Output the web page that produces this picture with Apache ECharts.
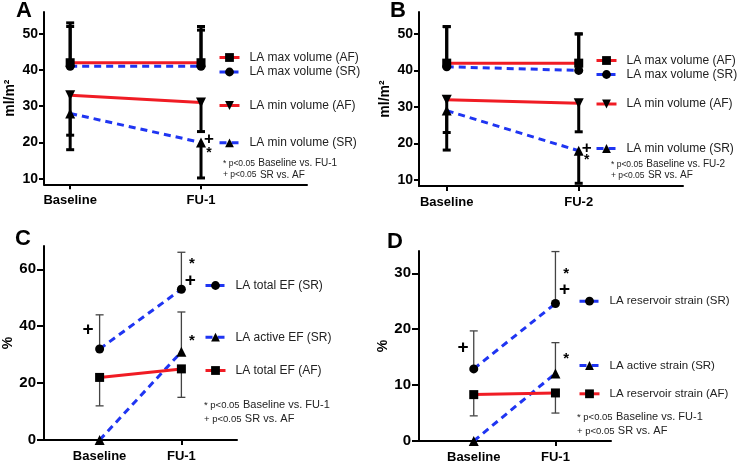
<!DOCTYPE html>
<html>
<head>
<meta charset="utf-8">
<script src="https://cdn.jsdelivr.net/npm/echarts@6/dist/echarts.min.js"></script>
<style>
  html, body { margin: 0; padding: 0; background: #fff; }
  #main { width: 749px; height: 469px; }
</style>
</head>
<body>
<div id="main"></div>
<script>
// categories on the x axes
const catsA = ['Baseline', 'FU-1'];
const catsB = ['Baseline', 'FU-2'];
const catsC = ['Baseline', 'FU-1'];
const catsD = ['Baseline', 'FU-1'];

// tick labels on the y axes
const yTicksA = [10, 20, 30, 40, 50];
const yTicksB = [10, 20, 30, 40, 50];
const yTicksC = [0, 20, 40, 60];
const yTicksD = [0, 10, 20, 30];

// panel A - LA volume (ml/m2), mean + one sided error bar end
const maxAF_A = [42, 42], maxAF_A_bar = [53, 52];
const maxSR_A = [41, 41], maxSR_A_bar = [52, 51];
const minAF_A = [33, 31], minAF_A_bar = [22, 23];
const minSR_A = [28, 20], minSR_A_bar = [18, 10.2];

// panel B
const maxAF_B = [42, 42], maxAF_B_bar = [52, 50];
const maxSR_B = [41, 40], maxSR_B_bar = [52, 50];
const minAF_B = [32, 31], minAF_B_bar = [23, 23.2];
const minSR_B = [29, 18], minSR_B_bar = [18.2, 9.1];

// panel C - EF (%)
const totalEF_SR = [32, 53], totalEF_SR_bar = [44, 66];
const activeEF_SR = [0, 31], activeEF_SR_bar = [null, 45];
const totalEF_AF = [22, 25], totalEF_AF_bar = [12, 15];

// panel D - strain (%)
const resStrain_SR = [12.9, 24.6], resStrain_SR_bar = [19.7, 33.9];
const actStrain_SR = [0, 12.1], actStrain_SR_bar = [null, 17.6];
const resStrain_AF = [8.3, 8.6], resStrain_AF_bar = [4.5, 5.0];

// significance marks [x, y, glyph]
const marksA = [[1.06, 20.8, '+'], [1.06, 17.9, '*']];
const marksB = [[1.06, 18.8, '+'], [1.06, 16.2, '*']];
const marksC = [[1.13, 62.9, '*'], [1.11, 56.1, '+'], [-0.14, 38.9, '+'], [1.13, 36, '*']];
const marksD = [[1.13, 30.5, '*'], [1.11, 27.1, '+'], [-0.13, 16.6, '+'], [1.13, 15.2, '*']];

const FONT = '"Liberation Sans", Arial, sans-serif';
const RED = '#f01c24';
const BLUE = '#1f35f2';

function lineSeries(name, values, idx, color, dashed, symbol, rotate) {
    return {
        type: 'line',
        name: name,
        xAxisIndex: idx,
        yAxisIndex: idx,
        data: values.map((v, i) => [i, v]),
        symbol: symbol,
        symbolRotate: rotate || 0,
        symbolSize: symbol === 'triangle' ? 10 : 9,
        showSymbol: true,
        clip: false,
        z: 3,
        itemStyle: { color: '#000' },
        lineStyle: { color: color, width: 3, type: dashed ? [7, 5] : 'solid' },
        emphasis: { disabled: true }
    };
}

function errSeries(values, bars, idx, width, color) {
    let data = [];
    values.forEach((v, i) => {
        if (bars[i] != null) data.push([i, v, bars[i]]);
    });
    return {
        type: 'custom',
        xAxisIndex: idx,
        yAxisIndex: idx,
        data: data,
        encode: { x: 0, y: [1, 2] },
        clip: false,
        z: 2,
        silent: true,
        renderItem: function (params, api) {
            let x = api.value(0);
            let p0 = api.coord([x, api.value(1)]);
            let p1 = api.coord([x, api.value(2)]);
            let st = { stroke: color, lineWidth: width };
            return {
                type: 'group',
                children: [
                    { type: 'line', shape: { x1: p0[0], y1: p0[1], x2: p1[0], y2: p1[1] }, style: st },
                    { type: 'line', shape: { x1: p1[0] - 4, y1: p1[1], x2: p1[0] + 4, y2: p1[1] }, style: st }
                ]
            };
        }
    };
}

// plus / star glyphs next to the points
function markSeries(marks, idx, plusSize, starSize) {
    return {
        type: 'scatter',
        xAxisIndex: idx,
        yAxisIndex: idx,
        silent: true,
        symbolSize: 1,
        itemStyle: { opacity: 0 },
        z: 5,
        data: marks.map(m => ({
            value: [m[0], m[1]],
            name: m[2],
            label: { fontSize: m[2] === '+' ? plusSize : starSize, offset: m[2] === '+' ? [0, 0] : [0, 3] }
        })),
        label: {
            show: true,
            position: 'inside',
            formatter: '{b}',
            color: '#000',
            opacity: 1,
            fontFamily: FONT,
            fontWeight: 'bold'
        }
    };
}

function xAxis(idx, cats, min, max) {
    return {
        type: 'value', gridIndex: idx, min: min, max: max,
        axisLine: { onZero: false, lineStyle: { color: '#000', width: 2 } },
        axisTick: { customValues: [0, 1], length: 5, lineStyle: { color: '#000', width: 2 } },
        axisLabel: {
            customValues: [0, 1], formatter: v => cats[Math.round(v)],
            color: '#000', fontFamily: FONT, fontWeight: 'bold', fontSize: 13, margin: 10
        },
        splitLine: { show: false }
    };
}

function yAxis(idx, ticks, min, max, name, gap, tickLen, fs) {
    return {
        type: 'value', gridIndex: idx, min: min, max: max,
        name: name, nameLocation: 'middle', nameGap: gap,
        nameTextStyle: { color: '#000', fontFamily: FONT, fontWeight: 'bold', fontSize: 14 },
        axisLine: { onZero: false, lineStyle: { color: '#000', width: 2 } },
        axisTick: { customValues: ticks, length: tickLen, lineStyle: { color: '#000', width: 2 } },
        axisLabel: {
            customValues: ticks, color: '#000', fontFamily: FONT,
            fontWeight: 'bold', fontSize: fs, margin: tickLen + 1
        },
        splitLine: { show: false }
    };
}

function leg(name, left, cy, fs) {
    return {
        data: [name], left: left, top: cy - 5.5, padding: 0,
        itemWidth: 20, itemHeight: 11, selectedMode: false,
        lineStyle: { width: 3 },
        textStyle: { fontFamily: FONT, fontSize: fs, color: '#222', padding: [0, 0, 0, 5] }
    };
}

function noteText(x, y, small, main, fs) {
    return {
        type: 'text', x: x, y: y, silent: true,
        style: {
            text: '{s|' + small + '} {m|' + main + '}',
            verticalAlign: 'middle',
            rich: {
                s: { fontFamily: FONT, fontSize: fs - 1.5, fill: '#222' },
                m: { fontFamily: FONT, fontSize: fs, fill: '#222' }
            }
        }
    };
}

const myChart = echarts.init(document.getElementById('main'));

const option = {
    backgroundColor: '#fff',
    animation: false,
    title: [
        { text: 'A', left: 16, top: 0 },
        { text: 'B', left: 390, top: 0 },
        { text: 'C', left: 15, top: 228 },
        { text: 'D', left: 387, top: 231 }
    ].map(t => Object.assign(t, {
        padding: 0,
        textStyle: { fontFamily: FONT, fontWeight: 'bold', fontSize: 22, color: '#000' }
    })),
    grid: [
        { left: 44, top: 12, width: 263, height: 172.3 },
        { left: 419, top: 12, width: 264, height: 174 },
        { left: 44, top: 246, width: 193, height: 194 },
        { left: 419, top: 251, width: 192, height: 190 }
    ],
    xAxis: [
        xAxis(0, catsA, -0.2, 1.81),
        xAxis(1, catsB, -0.21, 1.79),
        xAxis(2, catsC, -0.68, 1.68),
        xAxis(3, catsD, -0.67, 1.68)
    ],
    yAxis: [
        yAxis(0, yTicksA, 8.45, 56, 'ml/m²', 27, 5, 14),
        yAxis(1, yTicksB, 8.36, 56, 'ml/m²', 27, 5, 14),
        yAxis(2, yTicksC, 0, 68.2, '%', 24, 7, 15),
        yAxis(3, yTicksD, 0, 34, '%', 24, 7, 15)
    ],
    legend: [
        leg('LA max volume (AF)', 218, 57, 12),
        leg('LA max volume (SR)', 218, 71.5, 12),
        leg('LA min volume (AF)', 218, 105, 12),
        leg('LA min volume (SR)', 218, 142.3, 12),
        leg('LA max volume (AF)', 595, 60, 12),
        leg('LA max volume (SR)', 595, 74, 12),
        leg('LA min volume (AF)', 595, 103.5, 12),
        leg('LA min volume (SR)', 595, 148, 12),
        leg('LA total EF (SR)', 204, 285, 12),
        leg('LA active EF (SR)', 204, 336.7, 12),
        leg('LA total EF (AF)', 204, 370, 12),
        leg('LA reservoir strain (SR)', 578, 300.7, 11.5),
        leg('LA active strain (SR)', 578, 365, 11.5),
        leg('LA reservoir strain (AF)', 578, 393.3, 11.5)
    ],
    graphic: [
        noteText(223, 163.3, '* p<0.05', 'Baseline vs. FU-1', 10),
        noteText(223, 175, '+ p<0.05', 'SR vs. AF', 10),
        noteText(611, 164.3, '* p<0.05', 'Baseline vs. FU-2', 10),
        noteText(611, 175.7, '+ p<0.05', 'SR vs. AF', 10),
        noteText(204, 405, '* p<0.05', 'Baseline vs. FU-1', 11),
        noteText(204, 419, '+ p<0.05', 'SR vs. AF', 11),
        noteText(577, 417.3, '* p<0.05', 'Baseline vs. FU-1', 11),
        noteText(577, 431, '+ p<0.05', 'SR vs. AF', 11)
    ],
    series: [
        // A
        errSeries(maxAF_A, maxAF_A_bar, 0, 3, '#000'),
        errSeries(maxSR_A, maxSR_A_bar, 0, 3, '#000'),
        errSeries(minAF_A, minAF_A_bar, 0, 3, '#000'),
        errSeries(minSR_A, minSR_A_bar, 0, 3, '#000'),
        lineSeries('LA max volume (AF)', maxAF_A, 0, RED, false, 'rect'),
        lineSeries('LA max volume (SR)', maxSR_A, 0, BLUE, true, 'circle'),
        lineSeries('LA min volume (AF)', minAF_A, 0, RED, false, 'triangle', 180),
        lineSeries('LA min volume (SR)', minSR_A, 0, BLUE, true, 'triangle'),
        markSeries(marksA, 0, 17, 14),
        // B
        errSeries(maxAF_B, maxAF_B_bar, 1, 3, '#000'),
        errSeries(maxSR_B, maxSR_B_bar, 1, 3, '#000'),
        errSeries(minAF_B, minAF_B_bar, 1, 3, '#000'),
        errSeries(minSR_B, minSR_B_bar, 1, 3, '#000'),
        lineSeries('LA max volume (AF)', maxAF_B, 1, RED, false, 'rect'),
        lineSeries('LA max volume (SR)', maxSR_B, 1, BLUE, true, 'circle'),
        lineSeries('LA min volume (AF)', minAF_B, 1, RED, false, 'triangle', 180),
        lineSeries('LA min volume (SR)', minSR_B, 1, BLUE, true, 'triangle'),
        markSeries(marksB, 1, 17, 14),
        // C
        errSeries(totalEF_SR, totalEF_SR_bar, 2, 1.3, '#444'),
        errSeries(activeEF_SR, activeEF_SR_bar, 2, 1.3, '#444'),
        errSeries(totalEF_AF, totalEF_AF_bar, 2, 1.3, '#444'),
        lineSeries('LA total EF (SR)', totalEF_SR, 2, BLUE, true, 'circle'),
        lineSeries('LA active EF (SR)', activeEF_SR, 2, BLUE, true, 'triangle'),
        lineSeries('LA total EF (AF)', totalEF_AF, 2, RED, false, 'rect'),
        markSeries(marksC, 2, 19, 15),
        // D
        errSeries(resStrain_SR, resStrain_SR_bar, 3, 1.3, '#444'),
        errSeries(actStrain_SR, actStrain_SR_bar, 3, 1.3, '#444'),
        errSeries(resStrain_AF, resStrain_AF_bar, 3, 1.3, '#444'),
        lineSeries('LA reservoir strain (SR)', resStrain_SR, 3, BLUE, true, 'circle'),
        lineSeries('LA active strain (SR)', actStrain_SR, 3, BLUE, true, 'triangle'),
        lineSeries('LA reservoir strain (AF)', resStrain_AF, 3, RED, false, 'rect'),
        markSeries(marksD, 3, 19, 15)
    ]
};

myChart.setOption(option);
window.addEventListener('resize', function () { myChart.resize(); });
</script>
</body>
</html>
